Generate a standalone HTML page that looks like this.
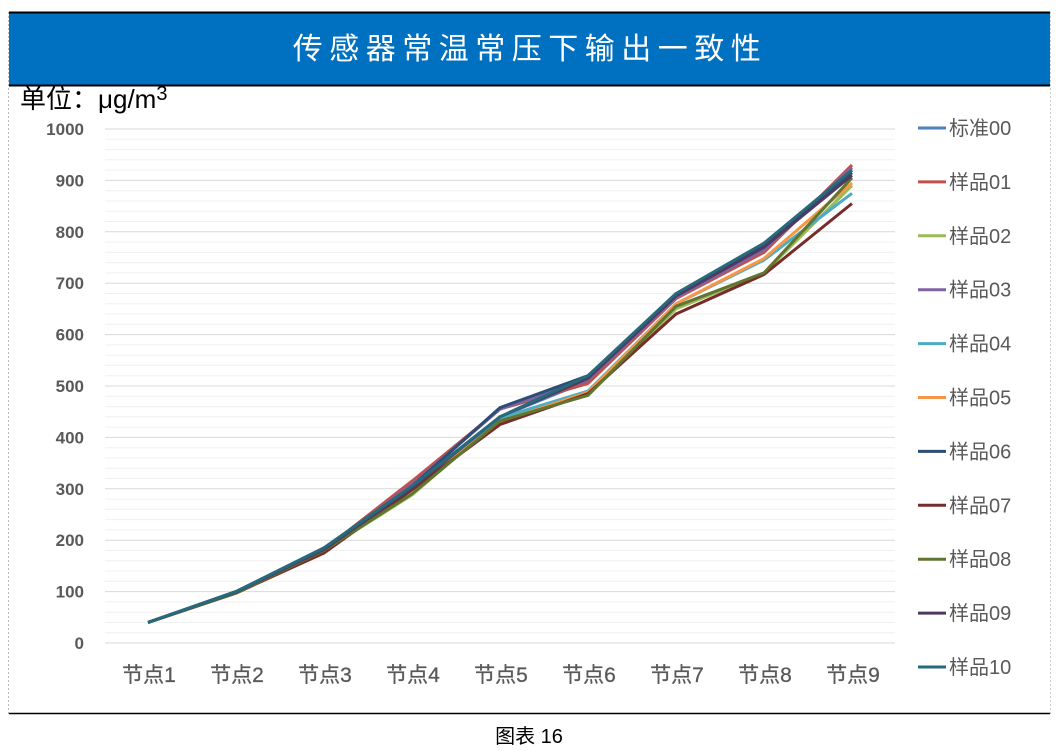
<!DOCTYPE html>
<html><head><meta charset="utf-8"><style>
body{margin:0;background:#fff;width:1058px;height:751px;overflow:hidden;font-family:"Liberation Sans","Noto Sans CJK SC",sans-serif;}
</style></head><body>
<svg id="s" width="1058" height="751" xmlns="http://www.w3.org/2000/svg" style="position:absolute;left:0;top:0">
<line x1="8.5" y1="12" x2="8.5" y2="714" stroke="#bbb" stroke-dasharray="2,2"/>
<line x1="1050.5" y1="12" x2="1050.5" y2="714" stroke="#ccc" stroke-dasharray="2,2"/>
<rect x="9" y="12" width="1041" height="74" fill="#0070C0"/>
<line x1="9" y1="12.5" x2="1050" y2="12.5" stroke="#000" stroke-width="2"/>
<line x1="9" y1="85.5" x2="1050" y2="85.5" stroke="#000" stroke-width="2"/>
<text x="530" y="59" text-anchor="middle" fill="#fff" font-size="30" letter-spacing="6.5" font-family="'Noto Sans CJK SC',sans-serif">传感器常温常压下输出一致性</text>
<text x="20" y="108" font-size="26" fill="#000" font-family="'Liberation Sans','Noto Sans CJK SC',sans-serif">单位：μg/m<tspan font-size="20" dy="-8">3</tspan></text>
<g id="g"></g>
<line x1="9" y1="713.5" x2="1050" y2="713.5" stroke="#000" stroke-width="1.5"/>
<text x="529" y="743" text-anchor="middle" font-size="20" fill="#000" font-family="'Liberation Sans','Noto Sans CJK SC',sans-serif">图表 16</text>
</svg>
<script>
var g=document.getElementById('g'),h='';
function Y(v){return 643-0.514*v;}
for(var v=0;v<=1000;v+=20){var y=Y(v).toFixed(1);var maj=v%100==0;
h+='<line x1="105" x2="895" y1="'+y+'" y2="'+y+'" stroke="'+(maj?'#d9d9d9':'#f0f0f0')+'" stroke-width="1"/>';
if(maj)h+='<text x="84" y="'+(Y(v)+6)+'" text-anchor="end" font-size="17" font-weight="bold" fill="#595959" font-family="Liberation Sans,sans-serif">'+v+'</text>';}
for(var i=0;i<9;i++){h+='<text x="'+(149+88*i)+'" y="682" text-anchor="middle" font-size="21" fill="#595959" stroke="#595959" stroke-width="0.3" font-family="\'Liberation Sans\',\'Noto Sans CJK SC\',sans-serif">节点'+(i+1)+'</text>';}
var S=[
['标准00','#4F81BD',[40,99,183,305,440,510,670,765,920]],
['样品01','#C0504D',[40,100,182,315,455,505,670,760,930]],
['样品02','#9BBB59',[40,97,180,288,435,482,650,720,890]],
['样品03','#8064A2',[40,99,183,308,455,512,672,765,925]],
['样品04','#4BACC6',[40,98,180,300,438,490,660,745,875]],
['样品05','#F79646',[40,97,180,298,430,488,660,748,895]],
['样品06','#2C4D75',[40,100,185,305,458,520,678,775,915]],
['样品07','#772C2A',[40,97,175,298,425,485,640,717,855]],
['样品08','#5F7530',[40,97,180,290,432,482,655,720,905]],
['样品09','#4D3B62',[40,99,182,302,440,515,675,770,910]],
['样品10','#276A7C',[40,100,185,305,440,520,680,778,920]]];
S.forEach(function(s,k){var p=s[2].map(function(v,i){return (148+88*i)+','+Y(v).toFixed(1)}).join(' ');
h+='<polyline points="'+p+'" fill="none" stroke="'+s[1]+'" stroke-width="3" stroke-linejoin="round"/>';
var ly=128+53.9*k;
h+='<line x1="918" x2="946" y1="'+ly+'" y2="'+ly+'" stroke="'+s[1]+'" stroke-width="3"/>';
h+='<text x="949" y="'+(ly+7)+'" font-size="20" fill="#595959" font-family="\'Liberation Sans\',\'Noto Sans CJK SC\',sans-serif">'+s[0]+'</text>';});
g.innerHTML=h;
</script>
</body></html>
